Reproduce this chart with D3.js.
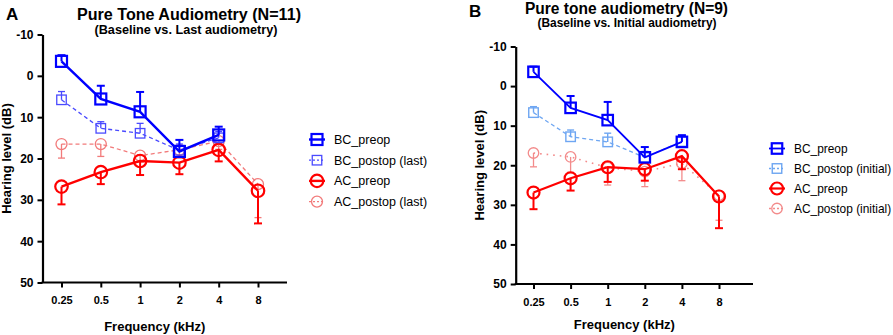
<!DOCTYPE html>
<html>
<head>
<meta charset="utf-8">
<script src="https://cdn.jsdelivr.net/npm/d3@7"></script>
<style>
  body { margin: 0; background: #fff; }
  svg { display: block; font-family: "Liberation Sans", Arial, sans-serif; }
</style>
</head>
<body>
<div id="chart"></div>
<script>
// shared axes
let freqs = [0.25, 0.5, 1, 2, 4, 8];
let freqLabels = ["0.25", "0.5", "1", "2", "4", "8"];
let levelTicks = [-10, 0, 10, 20, 30, 40, 50];

// panel A (N=11), baseline vs last audiometry
let aBcPre = [-3.5, 5.6, 8.7, 18.3, 14.3];
let aBcPreErr = [1.5, 3.2, 4.8, 2.8, 2.0];
let aBcPost = [5.8, 12.7, 13.9, 18.0, 15.0];
let aBcPostErr = [2.0, 1.6, 2.4, 1.5, 1.5];
let aAcPre = [26.8, 23.3, 20.6, 21.0, 17.9, 27.8];
let aAcPreErr = [4.3, 2.9, 3.4, 2.8, 2.8, 7.9];
let aAcPost = [16.5, 16.5, 19.3, 17.9, 15.8, 26.2];
let aAcPostErr = [3.4, 3.0, 1.5, 2.0, 2.0, 8.1];

// panel B (N=9), baseline vs initial audiometry
let bBcPre = [-3.6, 5.5, 8.6, 18.0, 14.1];
let bBcPreErr = [1.3, 3.0, 4.6, 2.6, 1.7];
let bBcPost = [6.7, 12.8, 14.1, 18.0, 14.0];
let bBcPostErr = [1.5, 1.7, 2.2, 1.5, 1.5];
let bAcPre = [26.9, 23.3, 20.5, 21.0, 17.7, 27.9];
let bAcPreErr = [4.2, 3.1, 3.7, 2.9, 3.3, 8.0];
let bAcPost = [16.9, 17.9, 20.6, 21.6, 19.5, 27.6];
let bAcPostErr = [3.5, 3.9, 4.4, 3.8, 4.4, 6.3];

let width = 893, height = 335;

let svg = d3.select('#chart')
  .append('svg')
  .attr('width', width)
  .attr('height', height);

function drawPanel(p) {
  let g = svg.append('g');

  let x = d3.scaleLog().base(2).domain([0.25, 8]).range([p.x0, p.x8]);
  let y = d3.scaleLinear().domain([-10, 50]).range([p.top, p.bottom]);

  // letter + titles
  g.append('text').attr('x', p.letterX).attr('y', p.letterY)
    .style('font-weight', 'bold').style('font-size', '17px').text(p.letter);
  g.append('text').attr('x', p.titleX).attr('y', p.titleY)
    .attr('text-anchor', 'middle')
    .attr('textLength', p.titleLen).attr('lengthAdjust', 'spacingAndGlyphs')
    .style('font-weight', 'bold').style('font-size', '16px').text(p.title);
  g.append('text').attr('x', p.subX).attr('y', p.subY)
    .attr('text-anchor', 'middle')
    .attr('textLength', p.subLen).attr('lengthAdjust', 'spacingAndGlyphs')
    .style('font-weight', 'bold').style('font-size', '12px').text(p.subtitle);

  // y axis
  let yAxis = g.append('g')
    .attr('transform', `translate(${p.left},0)`)
    .call(d3.axisLeft(y).tickValues(levelTicks).tickFormat(d => String(d))
      .tickSize(5).tickSizeOuter(0).tickPadding(4));
  yAxis.select('.domain').attr('stroke-width', 2.2);
  yAxis.selectAll('.tick line').attr('stroke-width', 2);
  yAxis.selectAll('text').style('font-size', '12px').style('font-weight', 'bold')
    .style('font-family', '"Liberation Sans", Arial, sans-serif').attr('fill', '#000');

  // x axis
  let xAxis = g.append('g')
    .attr('transform', `translate(0,${p.bottom})`)
    .call(d3.axisBottom(x).tickValues(freqs).tickFormat((d, i) => freqLabels[i]).tickSize(5).tickPadding(9));
  xAxis.select('.domain').remove();
  xAxis.selectAll('.tick line').attr('stroke-width', 2);
  xAxis.selectAll('text').style('font-size', '11px').style('font-weight', 'bold')
    .style('font-family', '"Liberation Sans", Arial, sans-serif').attr('fill', '#000');
  g.append('line')
    .attr('x1', p.left - 1).attr('x2', p.right)
    .attr('y1', p.bottom).attr('y2', p.bottom)
    .attr('stroke', '#000').attr('stroke-width', 2.2);

  // axis titles
  g.append('text')
    .attr('transform', `translate(${p.yLabelX},${(p.top + p.bottom) / 2}) rotate(-90)`)
    .attr('text-anchor', 'middle')
    .style('font-weight', 'bold').style('font-size', '13px')
    .text('Hearing level (dB)');
  g.append('text')
    .attr('x', (p.left + p.right) / 2 - 10).attr('y', p.xLabelY)
    .attr('text-anchor', 'middle')
    .style('font-weight', 'bold').style('font-size', '13px')
    .text('Frequency (kHz)');

  // series
  p.series.forEach(s => {
    let pts = s.values.map((v, i) => ({ f: freqs[i], v: v, e: s.errs[i] }));
    let sg = g.append('g');

    sg.append('path')
      .datum(pts)
      .attr('fill', 'none')
      .attr('stroke', s.color)
      .attr('stroke-width', s.lw)
      .attr('stroke-dasharray', s.dash)
      .attr('d', d3.line().x(d => x(d.f)).y(d => y(d.v)));

    // one-sided error bars (BC up, AC down)
    let bars = sg.selectAll('.bar').data(pts).enter().append('g');
    bars.append('line')
      .attr('x1', d => x(d.f)).attr('x2', d => x(d.f))
      .attr('y1', d => y(d.v)).attr('y2', d => y(d.v + s.dir * d.e))
      .attr('stroke', s.color).attr('stroke-width', s.ew);
    bars.append('line')
      .attr('x1', d => x(d.f) - s.cap).attr('x2', d => x(d.f) + s.cap)
      .attr('y1', d => y(d.v + s.dir * d.e)).attr('y2', d => y(d.v + s.dir * d.e))
      .attr('stroke', s.color).attr('stroke-width', s.ew);

    drawMarkers(sg, pts.map(d => [x(d.f), y(d.v)]), s);
  });

  // legend
  let lg = g.append('g');
  p.series.slice().reverse().forEach((s, i) => {
    let cy = p.legY + i * p.legStep;
    lg.append('line')
      .attr('x1', p.legX - 8).attr('x2', p.legX + 8)
      .attr('y1', cy).attr('y2', cy)
      .attr('stroke', s.color).attr('stroke-width', s.lw)
      .attr('stroke-dasharray', s.dash ? '2,2' : null);
    drawMarkers(lg, [[p.legX, cy]], s);
    lg.append('text')
      .attr('x', p.legX + 17).attr('y', cy)
      .attr('dy', '0.35em')
      .style('font-size', p.legFont)
      .text(s.name);
  });
}

function drawMarkers(sel, xy, s) {
  if (s.shape === 'square') {
    sel.selectAll(null).data(xy).enter().append('rect')
      .attr('x', d => d[0] - s.size / 2).attr('y', d => d[1] - s.size / 2)
      .attr('width', s.size).attr('height', s.size)
      .attr('fill', 'none').attr('stroke', s.color).attr('stroke-width', s.mw);
  } else {
    sel.selectAll(null).data(xy).enter().append('circle')
      .attr('cx', d => d[0]).attr('cy', d => d[1])
      .attr('r', s.size / 2)
      .attr('fill', 'none').attr('stroke', s.color).attr('stroke-width', s.mw);
  }
}

// draw order: postop first, preop on top; legend reverses it
drawPanel({
  letter: 'A', letterX: 6, letterY: 20,
  title: 'Pure Tone Audiometry (N=11)', titleX: 189, titleY: 20, titleLen: 224,
  subtitle: '(Baseline vs. Last audiometry)', subX: 186, subY: 34, subLen: 183,
  left: 42.5, right: 287, top: 34.5, bottom: 282.5, x0: 61.5, x8: 258,
  yLabelX: 11, xLabelY: 331,
  legX: 317, legY: 139.5, legStep: 20.7, legFont: '12.5px',
  series: [
    { name: 'AC_postop (last)', values: aAcPost, errs: aAcPostErr, color: '#f27b7b', shape: 'circle', size: 11, mw: 1.3, lw: 1.3, ew: 1.3, cap: 3.5, dash: '4,3', dir: 1 },
    { name: 'AC_preop', values: aAcPre, errs: aAcPreErr, color: '#ff0000', shape: 'circle', size: 12.5, mw: 2.2, lw: 2.4, ew: 2, cap: 4, dash: null, dir: 1 },
    { name: 'BC_postop (last)', values: aBcPost, errs: aBcPostErr, color: '#4a4aff', shape: 'square', size: 9.5, mw: 1.3, lw: 1.3, ew: 1.3, cap: 3.5, dash: '4,3', dir: -1 },
    { name: 'BC_preop', values: aBcPre, errs: aBcPreErr, color: '#0000ff', shape: 'square', size: 11, mw: 2.2, lw: 2.4, ew: 2, cap: 4, dash: null, dir: -1 }
  ]
});

drawPanel({
  letter: 'B', letterX: 469, letterY: 17,
  title: 'Pure tone audiometry (N=9)', titleX: 626.5, titleY: 14, titleLen: 203,
  subtitle: '(Baseline vs. Initial audiometry)', subX: 627, subY: 27, subLen: 179,
  left: 515.7, right: 753, top: 46.5, bottom: 284, x0: 533.5, x8: 719,
  yLabelX: 484, xLabelY: 328.5,
  legX: 777, legY: 148.5, legStep: 20, legFont: '11.9px',
  series: [
    { name: 'AC_postop (initial)', values: bAcPost, errs: bAcPostErr, color: '#f38b8b', shape: 'circle', size: 10.5, mw: 1.3, lw: 1.6, ew: 1.3, cap: 3.5, dash: '1.6,5', dir: 1 },
    { name: 'AC_preop', values: bAcPre, errs: bAcPreErr, color: '#ff0000', shape: 'circle', size: 12, mw: 2.2, lw: 2.2, ew: 2, cap: 4, dash: null, dir: 1 },
    { name: 'BC_postop (initial)', values: bBcPost, errs: bBcPostErr, color: '#6ea6f2', shape: 'square', size: 9.5, mw: 1.4, lw: 1.3, ew: 1.4, cap: 3.5, dash: '4,3', dir: -1 },
    { name: 'BC_preop', values: bBcPre, errs: bBcPreErr, color: '#0000ff', shape: 'square', size: 10.5, mw: 2.2, lw: 1.8, ew: 2, cap: 4, dash: null, dir: -1 }
  ]
});
</script>
</body>
</html>
